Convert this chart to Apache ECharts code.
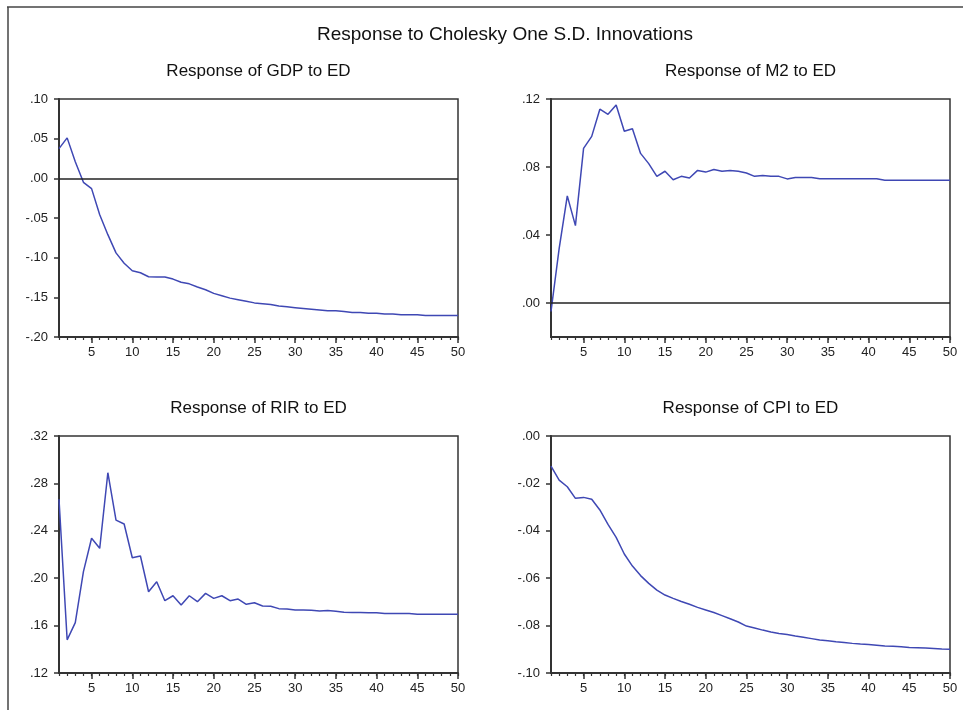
<!DOCTYPE html>
<html>
<head>
<meta charset="utf-8">
<script src="https://cdn.jsdelivr.net/npm/echarts@6/dist/echarts.min.js"></script>
<style>
  html, body { margin: 0; padding: 0; background: #fff; }
  #chart { width: 963px; height: 710px; }
</style>
</head>
<body>
<div id="chart"></div>
<script>
// periods 1..50
var periods = [];
for (var p = 1; p <= 50; p++) periods.push(p);

var xLabels = [5, 10, 15, 20, 25, 30, 35, 40, 45, 50];

var gdp = [0.0375, 0.051, 0.021, -0.005, -0.013, -0.046, -0.071, -0.094, -0.107, -0.1165,
    -0.119, -0.124, -0.1245, -0.1245, -0.127, -0.131, -0.133, -0.137, -0.1405, -0.145,
    -0.148, -0.151, -0.153, -0.155, -0.157, -0.158, -0.159, -0.161, -0.162, -0.163,
    -0.164, -0.165, -0.166, -0.167, -0.167, -0.168, -0.169, -0.169, -0.170, -0.170,
    -0.171, -0.171, -0.172, -0.172, -0.172, -0.173, -0.173, -0.173, -0.173, -0.173];

var m2 = [-0.005, 0.032, 0.063, 0.0455, 0.091, 0.098, 0.114, 0.111, 0.1165, 0.101,
    0.1025, 0.088, 0.082, 0.0745, 0.0775, 0.0725, 0.0745, 0.0735, 0.078, 0.077,
    0.0785, 0.0775, 0.078, 0.0775, 0.0765, 0.0745, 0.075, 0.0745, 0.0745, 0.073,
    0.0738, 0.0738, 0.0738, 0.0731, 0.0731, 0.0731, 0.0731, 0.0731, 0.0731, 0.0731,
    0.0731, 0.0722, 0.0722, 0.0722, 0.0722, 0.0722, 0.0722, 0.0722, 0.0722, 0.0722];

var rir = [0.2666, 0.148, 0.1625, 0.2055, 0.2337, 0.2252, 0.289, 0.249, 0.2457, 0.2173,
    0.2187, 0.1886, 0.197, 0.181, 0.1852, 0.1774, 0.1852, 0.1802, 0.1872, 0.183,
    0.1852, 0.181, 0.1824, 0.178, 0.1793, 0.1766, 0.1763, 0.1743, 0.1741, 0.1732,
    0.1731, 0.173, 0.1724, 0.1728, 0.1722, 0.1712, 0.1711, 0.171, 0.1709, 0.1708,
    0.1703, 0.1703, 0.1703, 0.1703, 0.1695, 0.1695, 0.1695, 0.1695, 0.1695, 0.1695];

var cpi = [-0.0127, -0.0186, -0.0214, -0.0263, -0.0259, -0.0267, -0.0312, -0.0373, -0.0428, -0.0498,
    -0.0549, -0.0589, -0.0622, -0.065, -0.0671, -0.0685, -0.0698, -0.071, -0.0723, -0.0734,
    -0.0745, -0.0758, -0.0771, -0.0785, -0.0802, -0.081, -0.0819, -0.0827, -0.0833, -0.0838,
    -0.0844, -0.0849, -0.0855, -0.0861, -0.0864, -0.0868, -0.0871, -0.0875, -0.0878, -0.088,
    -0.0883, -0.0886, -0.0887, -0.0889, -0.0892, -0.0893, -0.0895, -0.0897, -0.0899, -0.09];

var panelTitles = ['Response of GDP to ED', 'Response of M2 to ED', 'Response of RIR to ED', 'Response of CPI to ED'];

var lineColor = '#3f48b4';
var axisColor = '#333';
var labelFont = 'Liberation Sans, Arial, sans-serif';
var titleFont = 'Liberation Sans Narrow, Liberation Sans, Arial, sans-serif';

function pairs(vals) {
    var out = [];
    for (var i = 0; i < vals.length; i++) out.push([periods[i], vals[i]]);
    return out;
}

function fmtY(v) {
    return v.toFixed(2).replace('0.', '.');
}

var grids = [
    {left: 59, top: 99, width: 399, height: 238},
    {left: 551, top: 99, width: 399, height: 238},
    {left: 59, top: 436, width: 399, height: 237},
    {left: 551, top: 436, width: 399, height: 237}
];

var yRanges = [
    {min: -0.2, max: 0.1, interval: 0.05},
    {min: -0.02, max: 0.12, ticks: [0, 0.04, 0.08, 0.12]},
    {min: 0.12, max: 0.32, interval: 0.04},
    {min: -0.1, max: 0, interval: 0.02}
];

var seriesData = [gdp, m2, rir, cpi];
var zeroLine = [true, true, false, false];

var option = {
    backgroundColor: '#fff',
    animation: false,
    title: [{
        text: 'Response to Cholesky One S.D. Innovations',
        left: 500, top: 20, textAlign: 'center',
        textStyle: {fontFamily: titleFont, fontSize: 19, fontWeight: 'normal', color: '#111'}
    }],
    grid: [],
    xAxis: [],
    yAxis: [],
    series: [],
    graphic: [
        {type: 'line', shape: {x1: 7, y1: 7, x2: 963, y2: 7}, style: {stroke: '#444', lineWidth: 1.5}},
        {type: 'line', shape: {x1: 8, y1: 7, x2: 8, y2: 710}, style: {stroke: '#444', lineWidth: 1.5}}
    ]
};

for (var i = 0; i < 4; i++) {
    var g = grids[i];
    option.title.push({
        text: panelTitles[i],
        left: g.left + g.width / 2 - 5, top: g.top - 41, textAlign: 'center',
        textStyle: {fontFamily: titleFont, fontSize: 17, fontWeight: 'normal', color: '#111'}
    });
    option.grid.push({
        left: g.left, top: g.top, width: g.width, height: g.height,
        show: true, borderColor: axisColor, borderWidth: 1.5, backgroundColor: '#fff'
    });
    // main x axis: labels and long ticks at multiples of 5
    option.xAxis.push({
        type: 'value', gridIndex: i, min: 1, max: 50, position: 'bottom',
        axisLine: {show: true, onZero: false, lineStyle: {color: axisColor, width: 2}},
        axisTick: {show: true, length: 6, customValues: xLabels, lineStyle: {color: axisColor, width: 1.5}},
        axisLabel: {customValues: xLabels, color: '#222', fontFamily: labelFont, fontSize: 13, margin: 9},
        splitLine: {show: false}
    });
    // minor ticks every period
    option.xAxis.push({
        type: 'value', gridIndex: i, min: 1, max: 50, interval: 1, position: 'bottom',
        axisLine: {show: false, onZero: false},
        axisTick: {show: true, length: 3, lineStyle: {color: axisColor, width: 1.2}},
        axisLabel: {show: false},
        splitLine: {show: false}
    });
    var yr = yRanges[i];
    var yAxis = {
        type: 'value', gridIndex: i, min: yr.min, max: yr.max,
        axisLine: {show: true, onZero: false, lineStyle: {color: axisColor, width: 2}},
        axisTick: {show: true, length: 5, lineStyle: {color: axisColor, width: 1.5}},
        axisLabel: {color: '#222', fontFamily: labelFont, fontSize: 13, margin: 11, formatter: fmtY},
        splitLine: {show: false}
    };
    if (yr.ticks) {
        yAxis.axisTick.customValues = yr.ticks;
        yAxis.axisLabel.customValues = yr.ticks;
    } else {
        yAxis.interval = yr.interval;
    }
    option.yAxis.push(yAxis);

    var s = {
        type: 'line', xAxisIndex: i * 2, yAxisIndex: i,
        data: pairs(seriesData[i]),
        showSymbol: false, symbol: 'none',
        lineStyle: {color: lineColor, width: 1.5},
        z: 3
    };
    if (zeroLine[i]) {
        s.markLine = {
            silent: true, symbol: 'none', label: {show: false},
            lineStyle: {color: '#222', width: 1.5, type: 'solid'},
            data: [{yAxis: 0}]
        };
    }
    option.series.push(s);
}

var chart = echarts.init(document.getElementById('chart'));
chart.setOption(option);
</script>
</body>
</html>
